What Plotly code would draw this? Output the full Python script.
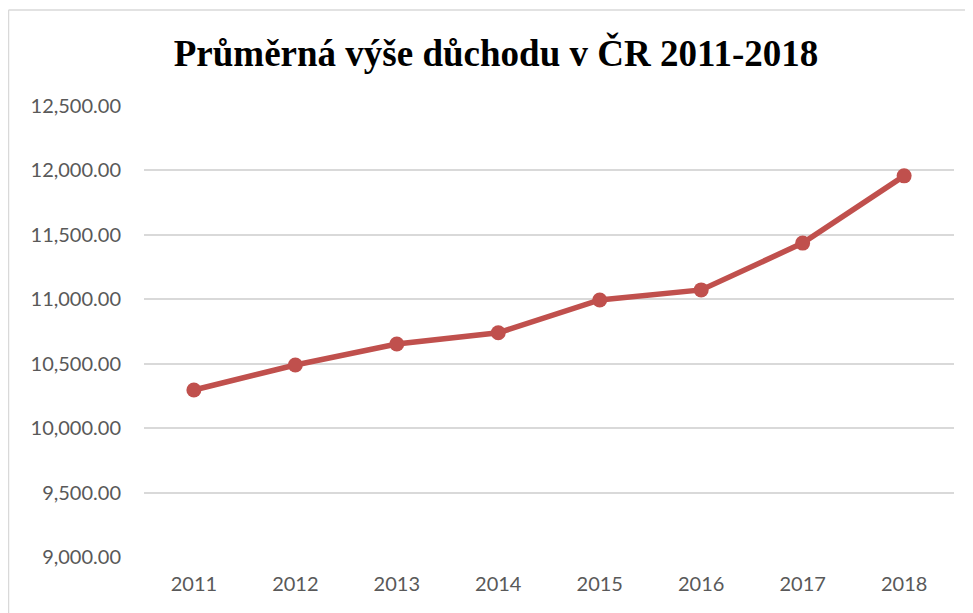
import plotly.graph_objects as go

years = ["2011", "2012", "2013", "2014", "2015", "2016", "2017", "2018"]
pension = [10296, 10490, 10653, 10740, 10995, 11073, 11436, 11958]
y_ticks = [9000, 9500, 10000, 10500, 11000, 11500, 12000, 12500]

TITLE = "Průměrná výše důchodu v ČR 2011-2018"
LINE = "#c0504d"
GRID = "#d9d9d9"
TICK = "#595959"
FRAME = "#d9d9d9"

# the page body adds an 8px margin, so the figure is sized/offset to compensate
OFF = 8
W, H = 973 - OFF, 613 - OFF
L, R, T, B = 144 - OFF, 19, 106 - OFF, 56

fig = go.Figure()
fig.add_trace(
    go.Scatter(
        x=years,
        y=pension,
        mode="lines+markers",
        line=dict(color=LINE, width=5.5),
        marker=dict(color=LINE, size=15),
        showlegend=False,
    )
)

# chart frame (left and top edges visible in the crop)
pw, ph = W - L - R, H - T - B
fx = (0.5 - L) / pw
fy = (H - B - 2) / ph
fig.add_shape(type="line", xref="paper", yref="paper", x0=fx, x1=fx, y0=-1, y1=fy,
              line=dict(color=FRAME, width=1.5))
fig.add_shape(type="line", xref="paper", yref="paper", x0=fx, x1=2, y0=fy, y1=fy,
              line=dict(color=FRAME, width=1.5))

fig.update_layout(
    width=W,
    height=H,
    paper_bgcolor="white",
    plot_bgcolor="white",
    margin=dict(l=L, r=R, t=T, b=B),
    title=dict(
        text=TITLE,
        x=(496 - OFF) / W,
        xanchor="center",
        y=1 - (53 - OFF) / H,
        yanchor="middle",
        font=dict(family="Liberation Serif, Times New Roman, serif", size=37, color="black", weight="bold"),
    ),
    font=dict(family="Lato, Carlito, Calibri, sans-serif", size=20, color=TICK),
)
fig.update_xaxes(
    type="category",
    showgrid=False,
    showline=False,
    zeroline=False,
    ticks="",
    ticklabelstandoff=13,
    tickfont=dict(size=20, color=TICK),
)
fig.update_yaxes(
    range=[9000, 12500],
    tickvals=y_ticks,
    tickformat=",.2f",
    showgrid=True,
    gridcolor=GRID,
    gridwidth=1.5,
    zeroline=False,
    showline=False,
    ticks="",
    ticklabelstandoff=22,
    tickfont=dict(size=20, color=TICK),
)

fig.write_html("out.html")
